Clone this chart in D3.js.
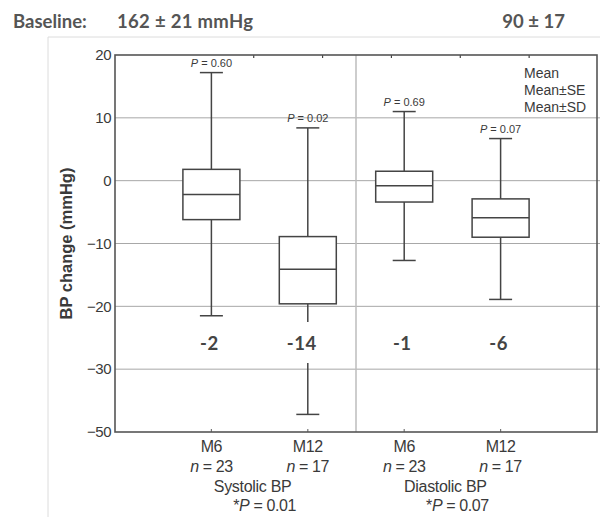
<!DOCTYPE html>
<html>
<head>
<meta charset="utf-8">
<script src="https://cdn.jsdelivr.net/npm/d3@7"></script>
<style>
  html, body { margin: 0; padding: 0; background: #fff; }
  svg { display: block; }
</style>
</head>
<body>
<svg id="chart" width="600" height="517"></svg>
<script>
// ---- data ----
const categories = ["M6", "M12", "M6", "M12"];
const nValues = [23, 17, 23, 17];
const groupNames = ["Systolic BP", "Diastolic BP"];
const groupP = ["0.01", "0.07"];
const means = [-2.2, -14.1, -0.8, -5.9];
const seUpper = [1.8, -8.9, 1.5, -2.9];
const seLower = [-6.2, -19.6, -3.4, -9.0];
const sdUpper = [17.2, 8.4, 11.0, 6.7];
const sdLower = [-21.5, -37.2, -12.7, -18.9];
const pValues = ["0.60", "0.02", "0.69", "0.07"];
const meanLabels = ["-2", "-14", "-1", "-6"];
const yTicks = [20, 10, 0, -10, -20, -30, -40];
const yTickLabels = ["20", "10", "0", "\u221210", "\u221220", "\u221230", "\u221250"];
const legendItems = ["Mean", "Mean\u00B1SE", "Mean\u00B1SD"];
const baselineSys = "162 \u00B1 21 mmHg";
const baselineDia = "90 \u00B1 17";

// ---- layout ----
const svg = d3.select("#chart");
const L = 115, R = 597, T = 55, B = 432;
const ids = d3.range(categories.length);

const x = d3.scalePoint().domain(ids).range([L, R]).padding(1);
const y = d3.scaleLinear().domain([-40, 20]).range([B, T]);

const sans = "'Liberation Sans', Arial, sans-serif";
const heavy = "Lato, 'Open Sans', sans-serif";
const ink = "#3a3a3a";

// outer frame of panel
svg.append("path")
  .attr("d", `M48,517 V37 H600`)
  .attr("fill", "none").attr("stroke", "#dcdcdc").attr("stroke-width", 1);

// header
const hdr = svg.append("g").attr("font-family", heavy).attr("font-weight", 700)
  .attr("font-size", 18.5).attr("fill", "#555");
hdr.append("text").attr("x", 13).attr("y", 28).text("Baseline:");
hdr.append("text").attr("x", 117).attr("y", 28).attr("letter-spacing", 0.3).text(baselineSys);
hdr.append("text").attr("x", 565).attr("y", 28).attr("text-anchor", "end").text(baselineDia);

// gridlines
const grid = svg.append("g");
grid.selectAll("line").data(yTicks.filter(d => d !== 20 && d !== -40)).join("line")
  .attr("x1", L).attr("x2", R + 3)
  .attr("y1", d => y(d)).attr("y2", d => y(d))
  .attr("stroke", "#a8a8a8").attr("stroke-width", 1);

// separator between groups
const sepX = (x(1) + x(2)) / 2;
svg.append("line").attr("x1", sepX).attr("x2", sepX).attr("y1", T).attr("y2", B)
  .attr("stroke", "#bdbdbd").attr("stroke-width", 1.5);

// y axis (tick labels)
const yAxis = d3.axisLeft(y).tickValues(yTicks).tickSize(0).tickPadding(4)
  .tickFormat((d, i) => yTickLabels[i]);
const yg = svg.append("g").attr("transform", `translate(${L},0)`).call(yAxis);
yg.select(".domain").remove();
yg.selectAll("text").attr("font-family", sans).attr("font-size", 15).attr("fill", ink)
  .attr("letter-spacing", -0.5);

// top decorative ticks
const topTicks = d3.scaleLinear().domain([0, 7]).range([L, R]);
svg.append("g").selectAll("line").data([2, 3, 4, 5, 6]).join("line")
  .attr("x1", d => topTicks(d) + 1).attr("x2", d => topTicks(d) + 1)
  .attr("y1", T).attr("y2", T + 3).attr("stroke", "#444").attr("stroke-width", 1.2);

// bottom ticks
svg.append("g").selectAll("line").data(ids).join("line")
  .attr("x1", d => x(d)).attr("x2", d => x(d))
  .attr("y1", B - 3).attr("y2", B).attr("stroke", "#777").attr("stroke-width", 1.2);

// plot frame
svg.append("rect").attr("x", L).attr("y", T).attr("width", R - L).attr("height", B - T)
  .attr("fill", "none").attr("stroke", "#555").attr("stroke-width", 1.6);

// boxes
const boxW = 57, capW = 23;
const g = svg.append("g").attr("stroke", "#444").attr("stroke-width", 1.5).attr("fill", "none");
ids.forEach(i => {
  const cx = x(i);
  g.append("line").attr("x1", cx).attr("x2", cx).attr("y1", y(sdUpper[i])).attr("y2", y(sdLower[i]));
  g.append("line").attr("x1", cx - capW / 2).attr("x2", cx + capW / 2)
    .attr("y1", y(sdUpper[i])).attr("y2", y(sdUpper[i]));
  g.append("line").attr("x1", cx - capW / 2).attr("x2", cx + capW / 2)
    .attr("y1", y(sdLower[i])).attr("y2", y(sdLower[i]));
  g.append("rect").attr("x", cx - boxW / 2).attr("width", boxW)
    .attr("y", y(seUpper[i])).attr("height", y(seLower[i]) - y(seUpper[i]))
    .attr("fill", "#fff");
  g.append("line").attr("x1", cx - boxW / 2).attr("x2", cx + boxW / 2)
    .attr("y1", y(means[i])).attr("y2", y(means[i]));
});

// p-value labels
ids.forEach(i => {
  const t = svg.append("text").attr("x", x(i)).attr("y", y(sdUpper[i]) - 6)
    .attr("text-anchor", "middle").attr("font-family", sans).attr("font-size", 11)
    .attr("fill", ink);
  t.append("tspan").attr("font-style", "italic").text("P");
  t.append("tspan").text(" = " + pValues[i]);
});

// mean labels with white background
ids.forEach(i => {
  svg.append("rect").attr("x", x(i) - 18).attr("y", 322).attr("width", 36).attr("height", 41)
    .attr("fill", "#fff");
});
ids.forEach(i => {
  svg.append("text").attr("x", x(i) - (i === 1 ? 6 : 2)).attr("y", 350)
    .attr("text-anchor", "middle").attr("font-family", heavy).attr("font-weight", 700)
    .attr("font-size", 18.5).attr("letter-spacing", 0.5).attr("fill", "#444").text(meanLabels[i]);
});

// legend
svg.append("g").selectAll("text").data(legendItems).join("text")
  .attr("x", 524).attr("y", (d, i) => 78 + i * 17)
  .attr("font-family", sans).attr("font-size", 14).attr("fill", ink).text(d => d);

// x labels
ids.forEach(i => {
  svg.append("text").attr("x", x(i)).attr("y", 452).attr("text-anchor", "middle")
    .attr("font-family", sans).attr("font-size", 16).attr("fill", ink)
    .attr("letter-spacing", -0.4).text(categories[i]);
  const t = svg.append("text").attr("x", x(i)).attr("y", 472).attr("text-anchor", "middle")
    .attr("font-family", sans).attr("font-size", 16).attr("fill", ink).attr("letter-spacing", -0.4);
  t.append("tspan").attr("font-style", "italic").text("n");
  t.append("tspan").text(" = " + nValues[i]);
});

groupNames.forEach((name, gi) => {
  const mid = (x(gi * 2) + x(gi * 2 + 1)) / 2;
  svg.append("text").attr("x", mid - 7).attr("y", 492).attr("text-anchor", "middle")
    .attr("font-family", sans).attr("font-size", 16).attr("fill", ink)
    .attr("letter-spacing", -0.3).text(name);
  const t = svg.append("text").attr("x", mid + 5).attr("y", 511).attr("text-anchor", "middle")
    .attr("font-family", sans).attr("font-size", 16).attr("fill", ink).attr("letter-spacing", -0.4);
  t.append("tspan").text("*");
  t.append("tspan").attr("font-style", "italic").text("P");
  t.append("tspan").text(" = " + groupP[gi]);
});

// y axis title
svg.append("text").attr("transform", `translate(72,${(T + B) / 2}) rotate(-90)`)
  .attr("text-anchor", "middle").attr("font-family", sans).attr("font-size", 16.5)
  .attr("font-weight", 600).attr("fill", ink).text("BP change (mmHg)");
</script>
</body>
</html>
